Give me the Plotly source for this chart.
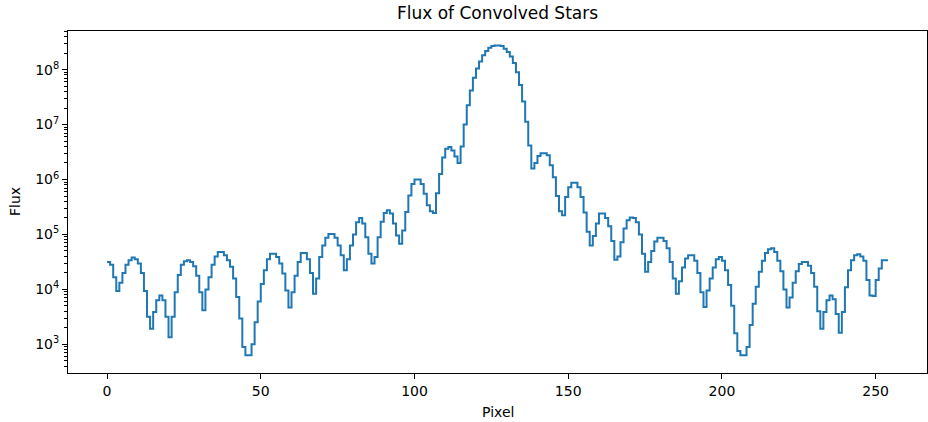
import plotly.graph_objects as go

# Pixel positions (x axis categories)
pixel = list(range(0, 255))

# log10 of flux, one value per pixel step (pixels 0..113)
log10_flux_left = [
    4.50, 4.45, 4.22, 3.97, 4.12, 4.30, 4.45, 4.53, 4.58, 4.55,
    4.47, 4.30, 3.97, 3.50, 3.285, 3.59, 3.80, 3.89, 3.80, 3.50,
    3.13, 3.50, 3.95, 4.26, 4.45, 4.51, 4.53, 4.50, 4.42, 4.25,
    3.95, 3.62, 4.00, 4.22, 4.45, 4.60, 4.68, 4.68, 4.62, 4.53,
    4.41, 4.20, 3.86, 3.47, 2.95, 2.80, 2.80, 3.00, 3.40, 3.78,
    4.10, 4.35, 4.55, 4.65, 4.65, 4.59, 4.47, 4.29, 3.98, 3.67,
    3.95, 4.25, 4.50, 4.66, 4.66, 4.55, 4.30, 3.92, 4.20, 4.59,
    4.80, 4.94, 5.01, 5.01, 4.94, 4.80, 4.62, 4.35, 4.55, 4.80,
    5.00, 5.22, 5.30, 5.20, 4.95, 4.65, 4.47, 4.59, 4.95, 5.23,
    5.39, 5.44, 5.38, 5.20, 4.98, 4.83, 5.07, 5.41, 5.71, 5.92,
    6.00, 6.00, 5.92, 5.74, 5.53, 5.42, 5.39, 5.75, 6.10, 6.40,
    6.56, 6.59, 6.53, 6.42,
]
# central star (pixels 114..139)
log10_flux_core = [
    6.30, 6.60, 7.00, 7.35, 7.62, 7.85, 8.02, 8.15, 8.26, 8.34,
    8.40, 8.43, 8.44, 8.44, 8.43, 8.38, 8.32, 8.24, 8.12, 7.95,
    7.72, 7.42, 7.05, 6.62, 6.20, 6.30,
]
# right wing (pixels 140..253)
log10_flux_right = [
    6.43, 6.48, 6.48, 6.44, 6.26, 6.04, 5.70, 5.42, 5.35, 5.68,
    5.86, 5.94, 5.94, 5.86, 5.68, 5.40, 5.05, 4.80, 4.97, 5.20,
    5.38, 5.38, 5.30, 5.15, 4.88, 4.54, 4.60, 4.86, 5.11, 5.26,
    5.31, 5.30, 5.22, 5.00, 4.65, 4.32, 4.50, 4.70, 4.87, 4.94,
    4.94, 4.88, 4.75, 4.50, 4.20, 3.92, 4.15, 4.40, 4.56, 4.62,
    4.62, 4.52, 4.30, 3.95, 3.68, 3.98, 4.20, 4.40, 4.55, 4.59,
    4.52, 4.35, 4.08, 3.70, 3.20, 2.88, 2.80, 2.80, 2.95, 3.35,
    3.74, 4.05, 4.32, 4.52, 4.66, 4.73, 4.75, 4.68, 4.52, 4.33,
    4.00, 3.67, 3.85, 4.12, 4.33, 4.46, 4.50, 4.50, 4.43, 4.30,
    4.05, 3.60, 3.285, 3.59, 3.80, 3.89, 3.82, 3.55, 3.21, 3.59,
    4.04, 4.35, 4.53, 4.62, 4.64, 4.60, 4.52, 4.17, 3.89, 3.88,
    4.17, 4.38, 4.53, 4.53,
]

x_ticks = [0, 50, 100, 150, 200, 250]
y_tick_exponents = [3, 4, 5, 6, 7, 8]

log10_flux = log10_flux_left + log10_flux_core + log10_flux_right
flux = [10 ** v for v in log10_flux]
flux = flux + [flux[-1]]  # hold last step to the final pixel

y_tickvals = [10 ** e for e in y_tick_exponents]
y_ticktext = ["10<sup>%d</sup>" % e for e in y_tick_exponents]
minor_vals = [m * 10 ** e for e in range(2, 9) for m in range(2, 10)]

W, H = 928, 422
L, R, T, B = 68, 1, 31, 49

fig = go.Figure()
fig.add_trace(go.Scatter(
    x=pixel, y=flux, mode="lines",
    line=dict(color="#1f77b4", width=2, shape="hv"),
    showlegend=False,
))

font = "DejaVu Sans, Arial, sans-serif"
fig.update_layout(
    width=W, height=H,
    margin=dict(l=L, r=R, t=T, b=B, autoexpand=False),
    paper_bgcolor="white", plot_bgcolor="white",
    font=dict(family=font, size=14, color="black"),
    title=dict(text="Flux of Convolved Stars", x=(L + W - R) / 2 / W, xanchor="center",
               xref="container", yref="container",
               y=1 - 13 / H, yanchor="middle", font=dict(size=17, family=font, color="black")),
    annotations=[
        dict(text="Pixel", xref="paper", yref="paper", x=0.5, y=-(412 - (H - B)) / (H - T - B),
             xanchor="center", yanchor="middle", showarrow=False, font=dict(size=14)),
        dict(text="Flux", xref="paper", yref="paper", x=-(L - 15) / (W - L - R), y=0.5,
             xanchor="center", yanchor="middle", textangle=-90, showarrow=False,
             font=dict(size=14)),
    ],
)
fig.update_xaxes(
    range=[-12.7, 266.7], tickvals=x_ticks, ticks="outside", ticklen=5, tickwidth=1,
    tickcolor="black", showline=True, mirror=True, linecolor="black", linewidth=1,
    showgrid=False, zeroline=False, tickfont=dict(size=14), automargin=False,
)
fig.update_yaxes(
    type="log", range=[2.478, 8.703], tickvals=y_tickvals, ticktext=y_ticktext,
    ticks="outside", ticklen=5, tickwidth=1, tickcolor="black",
    minor=dict(tickvals=minor_vals, ticks="outside", ticklen=3, tickcolor="black", tickwidth=0.8),
    showline=True, mirror=True, linecolor="black", linewidth=1,
    showgrid=False, zeroline=False, tickfont=dict(size=14), automargin=False,
)

fig.write_html(
    "out.html",
    config={"displayModeBar": False},
    post_script="document.body.style.margin='0';document.body.style.padding='0';",
)
